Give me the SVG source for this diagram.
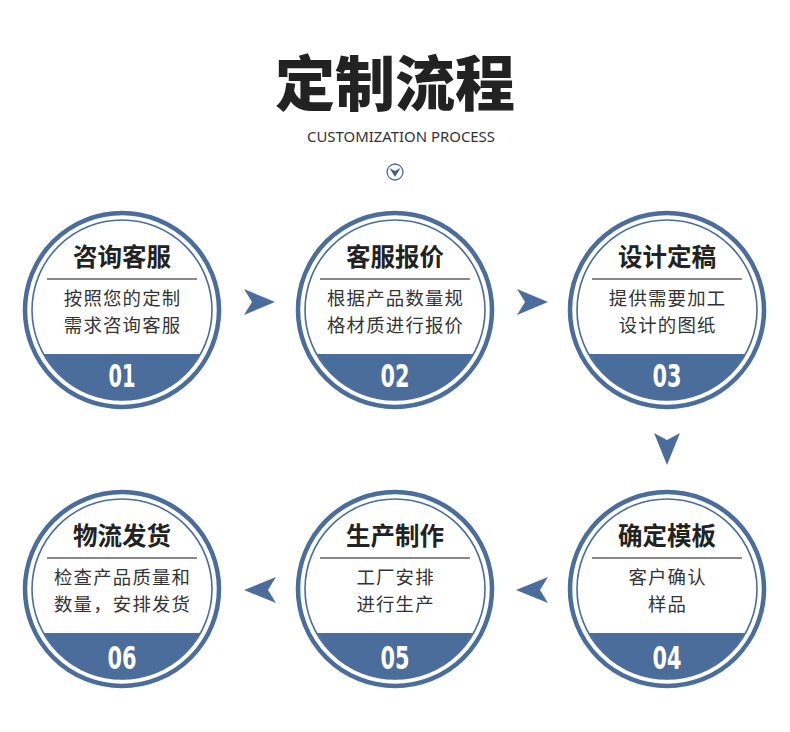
<svg xmlns="http://www.w3.org/2000/svg" width="790" height="732" viewBox="0 0 790 732">
<style>
.ring{fill:#fff;stroke:#4a6d9b;stroke-width:4.5}
.inner{fill:none;stroke:#4a6d9b;stroke-width:1.6}
.seg{fill:#4a6d9b}
.rule{stroke:#888;stroke-width:1.8}
.ttl{font-family:"Noto Sans CJK SC",sans-serif;font-weight:bold;font-size:24.5px;fill:#222;text-anchor:middle}
.body{font-family:"Noto Sans CJK SC",sans-serif;font-size:18.4px;letter-spacing:1.2px;fill:#333;text-anchor:middle}
.num{font-family:"DejaVu Sans",sans-serif;font-weight:bold;font-size:32px;fill:#fff;text-anchor:middle}
.arr{fill:#4a6d9b}
</style>
<defs>
<g id="badge">
<circle class="ring" cx="0" cy="0" r="97"/>
<circle class="inner" cx="0" cy="0" r="90"/>
<path class="seg" d="M-78,44 H78 A89,89 0 0 1 -78,44 Z"/>
<line class="rule" x1="-75" y1="-31" x2="75" y2="-31"/>
</g>
</defs>
<rect width="790" height="732" fill="#fff"/>
<g id="header">
<text x="395" y="106" font-family="Noto Sans CJK SC,sans-serif" font-weight="900" font-size="60" fill="#222" text-anchor="middle">定制流程</text>
<text x="401" y="142" font-family="Noto Sans,sans-serif" font-size="14" fill="#333" text-anchor="middle" textLength="188" lengthAdjust="spacingAndGlyphs">CUSTOMIZATION PROCESS</text>
<circle cx="395" cy="172" r="8" fill="none" stroke="#4a6d9b" stroke-width="1.3"/>
<polygon points="389.5,168 395,171 400.5,168 395,177" fill="#3d5f8e"/>
</g>
<g id="node1" transform="translate(122,310)">
<use href="#badge"/>
<text class="ttl" x="0" y="-44">咨询客服</text>
<text class="body" x="0.6" y="-5.5">按照您的定制</text>
<text class="body" x="0.6" y="21.5">需求咨询客服</text>
<text class="num" x="0" y="77" textLength="27" lengthAdjust="spacingAndGlyphs">01</text>
</g>
<g id="node2" transform="translate(395,310)">
<use href="#badge"/>
<text class="ttl" x="0" y="-44">客服报价</text>
<text class="body" x="0.6" y="-5.5">根据产品数量规</text>
<text class="body" x="0.6" y="21.5">格材质进行报价</text>
<text class="num" x="0" y="77" textLength="29" lengthAdjust="spacingAndGlyphs">02</text>
</g>
<g id="node3" transform="translate(667,310)">
<use href="#badge"/>
<text class="ttl" x="0" y="-44">设计定稿</text>
<text class="body" x="0.6" y="-5.5">提供需要加工</text>
<text class="body" x="0.6" y="21.5">设计的图纸</text>
<text class="num" x="0" y="77" textLength="29" lengthAdjust="spacingAndGlyphs">03</text>
</g>
<g id="node4" transform="translate(667,589)">
<use href="#badge"/>
<text class="ttl" x="0" y="-44">确定模板</text>
<text class="body" x="0.6" y="-5.5">客户确认</text>
<text class="body" x="0.6" y="21.5">样品</text>
<text class="num" x="0" y="80" textLength="29" lengthAdjust="spacingAndGlyphs">04</text>
</g>
<g id="node5" transform="translate(395,589)">
<use href="#badge"/>
<text class="ttl" x="0" y="-44">生产制作</text>
<text class="body" x="0.6" y="-5.5">工厂安排</text>
<text class="body" x="0.6" y="21.5">进行生产</text>
<text class="num" x="0" y="80" textLength="29" lengthAdjust="spacingAndGlyphs">05</text>
</g>
<g id="node6" transform="translate(122,589)">
<use href="#badge"/>
<text class="ttl" x="0" y="-44">物流发货</text>
<text class="body" x="0.6" y="-5.5">检查产品质量和</text>
<text class="body" x="0.6" y="21.5">数量，安排发货</text>
<text class="num" x="0" y="80" textLength="29" lengthAdjust="spacingAndGlyphs">06</text>
</g>
<g id="connectors">
<polygon class="arr" points="244,289 275,302 244,315 252,302"/>
<polygon class="arr" points="517,289 548,302 517,315 525,302"/>
<polygon class="arr" points="654,433 667,440 680,433 667,465"/>
<polygon class="arr" points="548,577 516,590 548,603 540,590"/>
<polygon class="arr" points="276,577 244,590 276,603 268,590"/>
</g>
</svg>
